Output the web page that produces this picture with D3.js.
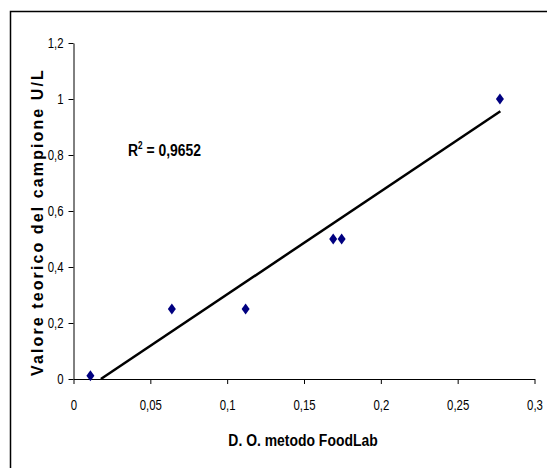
<!DOCTYPE html>
<html>
<head>
<meta charset="utf-8">
<script src="https://cdn.jsdelivr.net/npm/d3@7"></script>
<style>
  body { margin: 0; background: #fff; }
  svg { display: block; }
  .tick text { font-family: "Liberation Sans", Arial, sans-serif; font-size: 15px; fill: #000; }
</style>
</head>
<body>
<svg id="chart" width="547" height="468"></svg>
<script>
// valori
const xValues = [0.011, 0.064, 0.112, 0.169, 0.1745, 0.2775];
const yValues = [0.012, 0.25, 0.25, 0.5, 0.5, 1.0];
const xTicks = [0, 0.05, 0.1, 0.15, 0.2, 0.25, 0.3];
const yTicks = [0, 0.2, 0.4, 0.6, 0.8, 1, 1.2];
// linea di tendenza (estremi)
const trendX = [0.0178, 0.2778];
const trendY = [0, 0.956];
const r2Label = "0,9652";

const narrow = 0.82; // simula Arial Narrow
const tickNarrow = 0.76;
const svg = d3.select("#chart");

// cornice
svg.append("rect")
  .attr("x", 10.5).attr("y", 11.5)
  .attr("width", 560).attr("height", 480)
  .attr("fill", "none")
  .attr("stroke", "#000")
  .attr("stroke-width", 1.5);

const x = d3.scaleLinear().domain([0, 0.3]).range([73.5, 534.5]);
const y = d3.scaleLinear().domain([0, 1.2]).range([379, 43]);

const fmt = d => String(d).replace(".", ",");

svg.append("g")
  .attr("transform", "translate(0,379)")
  .call(d3.axisBottom(x).tickValues(xTicks).tickFormat(fmt).tickSize(5).tickSizeOuter(0).tickPadding(15))
  .call(g => g.selectAll("line, path").attr("stroke", "#000"))
  .call(g => g.selectAll(".tick text").attr("transform", `scale(${tickNarrow},1)`));

svg.append("g")
  .attr("transform", "translate(73.5,0)")
  .call(d3.axisLeft(y).tickValues(yTicks).tickFormat(fmt).tickSize(5).tickSizeOuter(0))
  .call(g => g.selectAll("line, path").attr("stroke", "#000"))
  .call(g => g.selectAll(".tick text")
    .attr("x", -10 / tickNarrow)
    .attr("transform", `scale(${tickNarrow},1)`));

// linea di tendenza
svg.append("line")
  .attr("x1", x(trendX[0])).attr("y1", y(trendY[0]))
  .attr("x2", x(trendX[1])).attr("y2", y(trendY[1]))
  .attr("stroke", "#000")
  .attr("stroke-width", 2.5);

// punti a rombo
const pts = xValues.map((v, i) => ({x: v, y: yValues[i]}));
svg.selectAll(".pt")
  .data(pts)
  .enter().append("path")
  .attr("class", "pt")
  .attr("d", "M0,-5.5L4,0L0,5.5L-4,0Z")
  .attr("transform", d => `translate(${x(d.x)},${y(d.y)})`)
  .attr("fill", "#000080");

// R2
const r2 = svg.append("text")
  .attr("transform", `translate(128,156) scale(${narrow},1)`)
  .attr("font-family", "\"Liberation Sans\", Arial, sans-serif")
  .attr("font-weight", "bold")
  .attr("font-size", 17);
r2.append("tspan").text("R");
r2.append("tspan").attr("dy", -7).attr("font-size", 10).text("2");
r2.append("tspan").attr("dy", 7).text(" = " + r2Label);

// titoli assi
svg.append("text")
  .attr("transform", `translate(303,446) scale(${narrow},1)`)
  .attr("text-anchor", "middle")
  .attr("font-family", "\"Liberation Sans\", Arial, sans-serif")
  .attr("font-weight", "bold")
  .attr("font-size", 17)
  .text("D. O. metodo FoodLab");

svg.append("text")
  .attr("transform", "translate(43,222) rotate(-90)")
  .attr("text-anchor", "middle")
  .attr("font-family", "\"Liberation Sans\", Arial, sans-serif")
  .attr("font-weight", "bold")
  .attr("font-size", 16)
  .attr("letter-spacing", 2.1)
  .text("Valore teorico del campione U/L");
</script>
</body>
</html>
